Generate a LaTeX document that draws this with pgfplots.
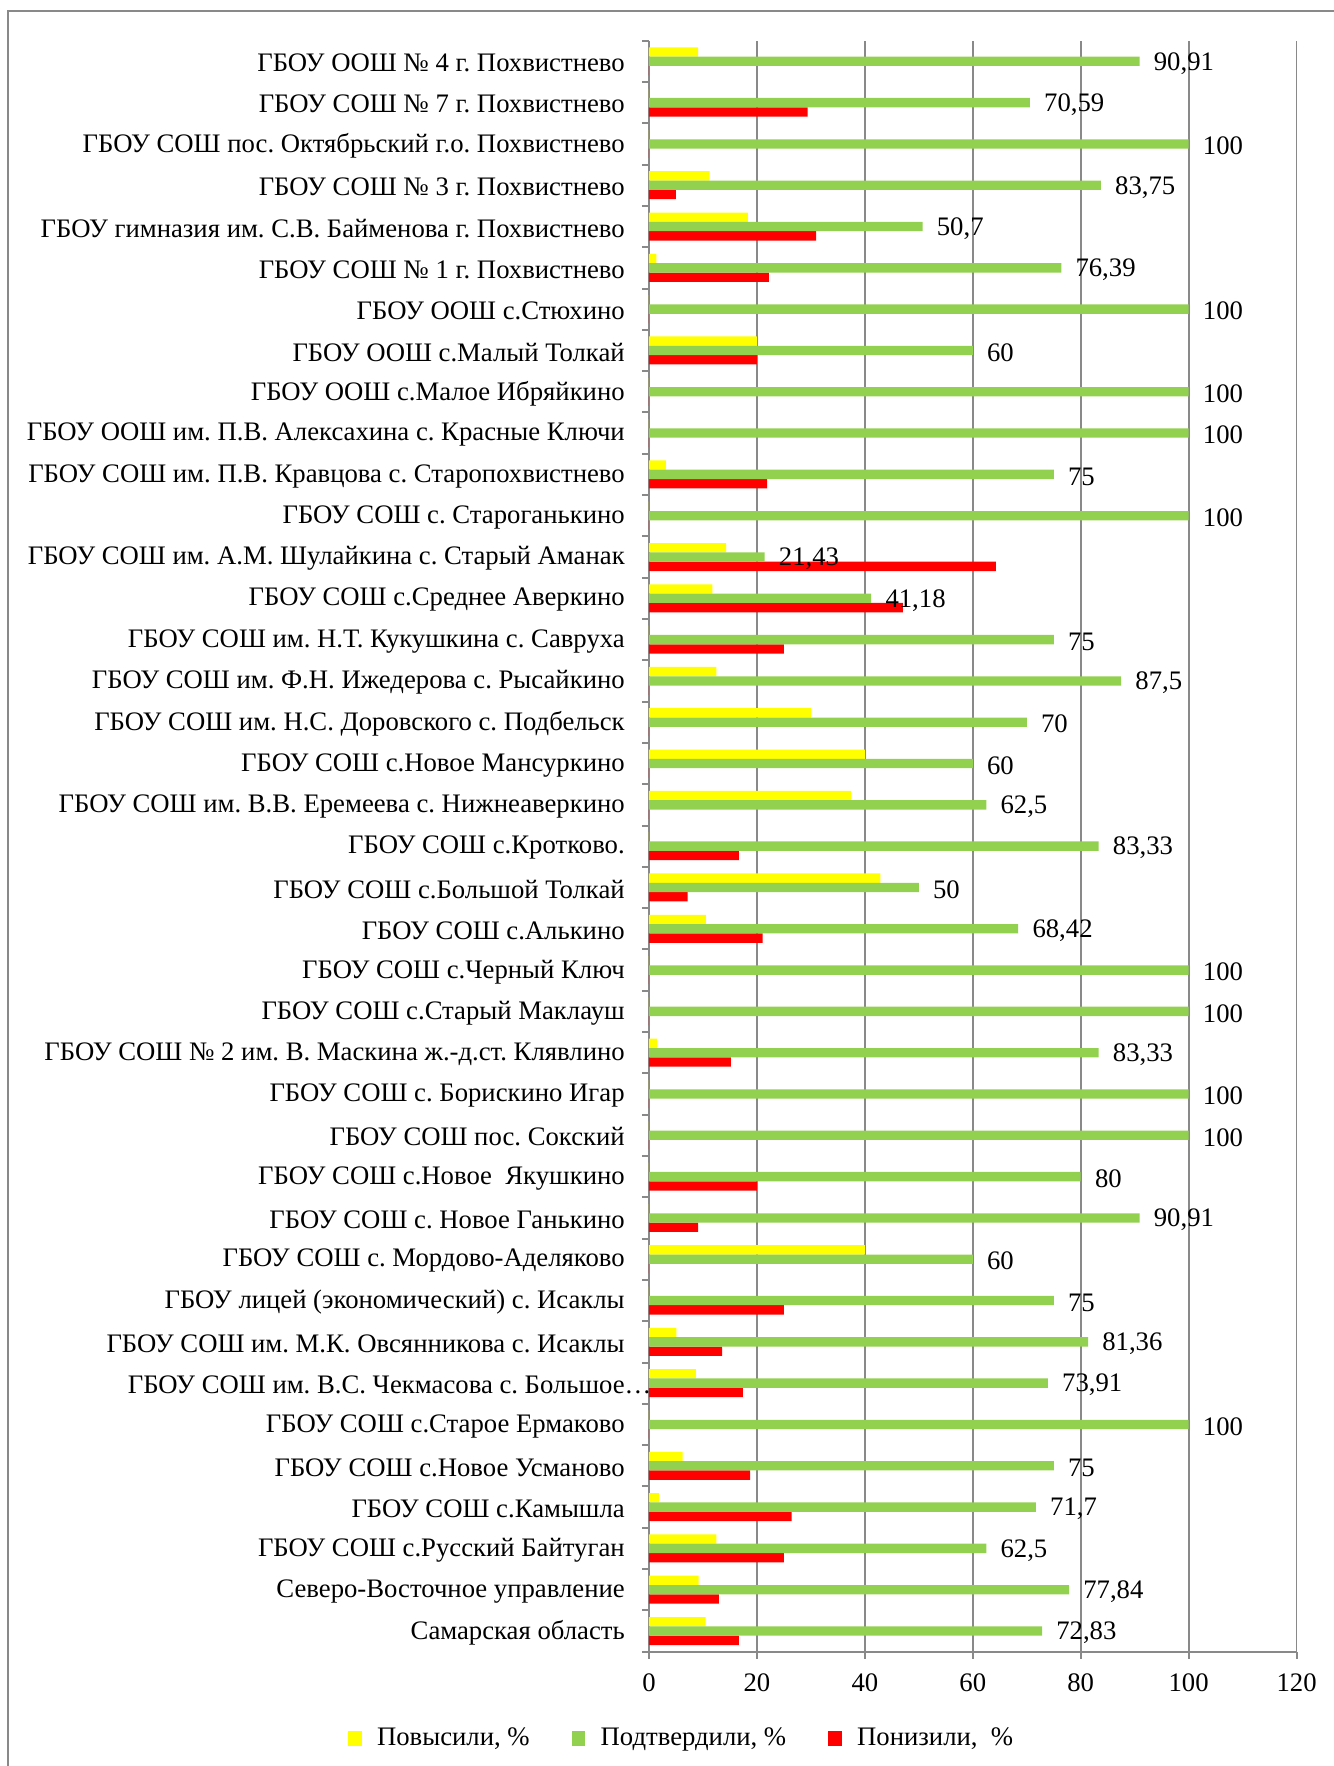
\documentclass[border=0pt]{standalone}
\usepackage{fontspec}
\setmainfont{Liberation Serif}
\usepackage{pgfplots}
\pgfplotsset{compat=1.18}

\definecolor{barYellow}{HTML}{FFFF00}
\definecolor{barGreen}{HTML}{92D050}
\definecolor{barRed}{HTML}{FF0000}
\definecolor{frameGray}{HTML}{898989}
\newcommand{\lblfont}{\fontsize{11.4}{13}\selectfont\frenchspacing}

\begin{document}
\frenchspacing
\begin{tikzpicture}
    \useasboundingbox (0,0) rectangle (200.1mm,264.9mm);
    \draw[frameGray, line width=0.3mm] (1.25mm,-1mm) -- (1.25mm,263.25mm) -- (201mm,263.25mm);
    \begin{axis}[
        at={(97.35mm,17.15mm)}, anchor=south west,
        scale only axis,
        width=97.14mm,
        height=241.65mm,
        xbar=0pt,
        bar width=1.4mm,
        xmin=0, xmax=120,
        ymin=-0.5, ymax=38.5,
        xtick={0,20,...,120},
        minor xtick={0,20,...,120},
        ytick={0,...,38},
        minor ytick={-0.5,0.5,...,38.5},
        major tick length=0pt,
        minor tick length=1.05mm,
        tick align=outside,
        axis x line*=bottom,
        axis y line*=left,
        axis line style={frameGray, line width=0.3mm},
        every tick/.style={frameGray, line width=0.3mm},
        xmajorgrids,
        grid style={frameGray, line width=0.25mm},
        /pgf/number format/assume math mode=true,
        tick label style={font=\lblfont, text=black},
        xticklabel style={yshift=-2.1mm},
        yticklabel style={xshift=-2.4mm, yshift=-0.25mm},
        % categories listed from the bottom of the chart upwards
        yticklabels={
            {Самарская область},
            {Северо-Восточное управление},
            {ГБОУ СОШ с.Русский Байтуган},
            {ГБОУ СОШ с.Камышла},
            {ГБОУ СОШ с.Новое Усманово},
            {ГБОУ СОШ с.Старое Ермаково},
            {ГБОУ СОШ им. В.С. Чекмасова с. Большое\rlap{…}},
            {ГБОУ СОШ им. М.К. Овсянникова с. Исаклы},
            {ГБОУ лицей (экономический) с. Исаклы\ },
            {ГБОУ СОШ с. Мордово-Аделяково},
            {ГБОУ СОШ с. Новое Ганькино},
            {ГБОУ СОШ с.Новое\ \ Якушкино},
            {ГБОУ СОШ пос. Сокский},
            {ГБОУ СОШ с. Борискино Игар},
            {ГБОУ СОШ № 2 им. В. Маскина ж.-д.ст. Клявлино},
            {ГБОУ СОШ с.Старый Маклауш},
            {ГБОУ СОШ с.Черный Ключ},
            {ГБОУ СОШ с.Алькино},
            {ГБОУ СОШ с.Большой Толкай},
            {ГБОУ СОШ с.Кротково.},
            {ГБОУ СОШ им. В.В. Еремеева с. Нижнеаверкино},
            {ГБОУ СОШ с.Новое Мансуркино},
            {ГБОУ СОШ им. Н.С. Доровского с. Подбельск},
            {ГБОУ СОШ им. Ф.Н. Ижедерова с. Рысайкино},
            {ГБОУ СОШ им. Н.Т. Кукушкина с. Савруха},
            {ГБОУ СОШ с.Среднее Аверкино},
            {ГБОУ СОШ им. А.М. Шулайкина с. Старый Аманак},
            {ГБОУ СОШ с. Староганькино},
            {ГБОУ СОШ им. П.В. Кравцова с. Старопохвистнево},
            {ГБОУ ООШ им. П.В. Алексахина с. Красные Ключи},
            {ГБОУ ООШ с.Малое Ибряйкино},
            {ГБОУ ООШ с.Малый Толкай},
            {ГБОУ ООШ с.Стюхино},
            {ГБОУ СОШ № 1 г. Похвистнево},
            {ГБОУ гимназия им. С.В. Байменова г. Похвистнево},
            {ГБОУ СОШ № 3 г. Похвистнево},
            {ГБОУ СОШ пос. Октябрьский г.о. Похвистнево},
            {ГБОУ СОШ № 7 г. Похвистнево},
            {ГБОУ ООШ № 4 г. Похвистнево},
        },
        legend columns=3,
        legend style={
            at={(0.0525,-0.0539)}, anchor=center,
            draw=none, fill=none,
            font=\lblfont,
            /tikz/every odd column/.append style={column sep=1.6mm},
            /tikz/every even column/.append style={column sep=5.6mm},
        },
        legend image code/.code={
            \fill[#1] (0mm,-1.05mm) rectangle (1.9mm,1.05mm);
        },
    ]
        \addlegendimage{barYellow}
        \addlegendentry{Повысили, \%}
        \addlegendimage{barGreen}
        \addlegendentry{Подтвердили, \%}
        \addlegendimage{barRed}
        \addlegendentry{Понизили,\ \ \%}
        % Повысили
        \addplot[forget plot, draw=none, fill=barYellow, bar shift=1.4mm] coordinates {
            (9.09,38) (0,37) (0,36) (11.25,35) (18.31,34) (1.39,33) (0,32) (20,31)
            (0,30) (0,29) (3.13,28) (0,27) (14.29,26) (11.76,25) (0,24) (12.5,23)
            (30,22) (40,21) (37.5,20) (0,19) (42.86,18) (10.53,17) (0,16) (0,15)
            (1.52,14) (0,13) (0,12) (0,11) (0,10) (40,9) (0,8) (5.08,7)
            (8.7,6) (0,5) (6.25,4) (1.89,3) (12.5,2) (9.2,1) (10.5,0)
        };
        % Понизили
        \addplot[forget plot, draw=none, fill=barRed, bar shift=-1.4mm] coordinates {
            (0,38) (29.41,37) (0,36) (5,35) (30.99,34) (22.22,33) (0,32) (20,31)
            (0,30) (0,29) (21.88,28) (0,27) (64.29,26) (47.06,25) (25,24) (0,23)
            (0,22) (0,21) (0,20) (16.67,19) (7.14,18) (21.05,17) (0,16) (0,15)
            (15.15,14) (0,13) (0,12) (20,11) (9.09,10) (0,9) (25,8) (13.56,7)
            (17.39,6) (0,5) (18.75,4) (26.42,3) (25,2) (12.96,1) (16.67,0)
        };
        % Подтвердили (drawn last so its value labels lie on top)
        \addplot[forget plot, draw=none, fill=barGreen, bar shift=0pt,
            point meta=x,
            nodes near coords={\pgfmathprintnumber[use comma,fixed,precision=2]{\pgfplotspointmeta}},
            every node near coord/.append style={font=\lblfont, text=black, anchor=west, xshift=0.9mm, yshift=-0.3mm},
        ] coordinates {
            (90.91,38) (70.59,37) (100,36) (83.75,35) (50.7,34) (76.39,33) (100,32) (60,31)
            (100,30) (100,29) (75,28) (100,27) (21.43,26) (41.18,25) (75,24) (87.5,23)
            (70,22) (60,21) (62.5,20) (83.33,19) (50,18) (68.42,17) (100,16) (100,15)
            (83.33,14) (100,13) (100,12) (80,11) (90.91,10) (60,9) (75,8) (81.36,7)
            (73.91,6) (100,5) (75,4) (71.7,3) (62.5,2) (77.84,1) (72.83,0)
        };
    \end{axis}
\end{tikzpicture}
\end{document}
